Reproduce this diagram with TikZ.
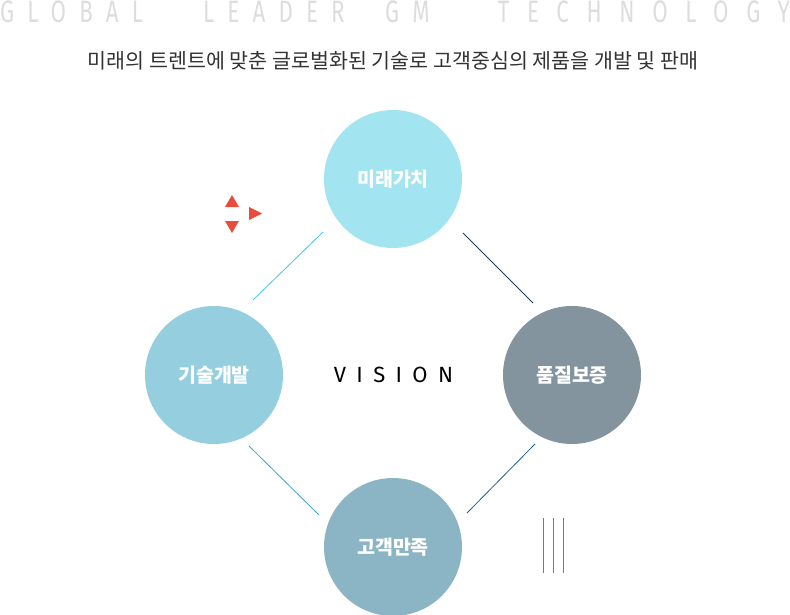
\documentclass[tikz,border=0pt]{standalone}
\usepackage{fontspec}
\newfontfamily\kr{Noto Sans CJK KR}
\newfontfamily\titlefont[FakeStretch=0.72,LetterSpace=42.5]{Fira Sans}
\newfontfamily\titlefontwide[FakeStretch=0.72,LetterSpace=57]{Fira Sans}
\newfontfamily\visionfont[LetterSpace=47]{Fira Sans}
\definecolor{titlegray}{HTML}{DDDDDD}
\definecolor{subtext}{HTML}{333333}
\definecolor{ctop}{HTML}{A2E4EF}
\definecolor{cleft}{HTML}{94CEDF}
\definecolor{cright}{HTML}{83949E}
\definecolor{cbottom}{HTML}{8BB5C5}
\definecolor{lcyan}{HTML}{3CC8E6}
\definecolor{lnavy}{HTML}{1F3F5F}
\definecolor{lblue}{HTML}{3BA4D0}
\definecolor{ldblue}{HTML}{1F5F8F}
\definecolor{accent}{HTML}{E84C3D}
\tikzset{
  circ/.style={circle,minimum size=138pt,inner sep=0pt,text=white,
    font=\kr\bfseries\fontsize{19.5}{19.5}\selectfont},
  titleword/.style={anchor=base west,inner sep=0pt,text=titlegray,
    font=\titlefont\fontsize{31}{31}\selectfont},
  titlewide/.style={anchor=base east,inner sep=0pt,text=titlegray,
    font=\titlefontwide\fontsize{31}{31}\selectfont},
  link/.style={line width=0.8pt},
  mark3/.style={fill=accent,draw=none},
  rule3/.style={draw=accent,line width=0.8pt}
}
\begin{document}
\begin{tikzpicture}[x=1pt,y=-1pt]
\useasboundingbox (0,0) rectangle (790,615);
% title
\node[titleword] (t1) at (0,22.3) {GLOBAL};
\node[titleword] (t2) at (203,22.3) {LEADER};
\node[titleword] (t3) at (385,22.3) {GM};
\node[titlewide] (t4) at (790,22.3) {TECHNOLOGY};
% subtitle
\node[inner sep=0pt,text=subtext,font=\kr\fontsize{20.6}{20.6}\selectfont] (sub) at (393,61) {미래의 트렌트에 맞춘 글로벌화된 기술로 고객중심의 제품을 개발 및 판매};
% circles
\node[circ,fill=ctop] (top) at (393,179) {미래가치};
\node[circ,fill=cleft] (left) at (214,375) {기술개발};
\node[circ,fill=cright] (right) at (572,375) {품질보증};
\node[circ,fill=cbottom] (bottom) at (393,547) {고객만족};
% center text
\node[inner sep=0pt,font=\visionfont\fontsize{22}{22}\selectfont] (vision) at (393.5,375) {VISION};
% connectors
\coordinate (a1) at (253,300); \coordinate (a2) at (323,232);
\coordinate (b1) at (463,233); \coordinate (b2) at (533,303);
\coordinate (c1) at (249,446); \coordinate (c2) at (319,515);
\coordinate (d1) at (535,444); \coordinate (d2) at (467,513);
\draw[link,lcyan] (a1) -- (a2);
\draw[link,lnavy] (b1) -- (b2);
\draw[link,lblue] (c1) -- (c2);
\draw[link,ldblue] (d1) -- (d2);
% red triangles
\coordinate (up1) at (225,207); \coordinate (up2) at (239,207); \coordinate (up3) at (232,195);
\coordinate (dn1) at (225,221); \coordinate (dn2) at (239,221); \coordinate (dn3) at (232,233);
\coordinate (rt1) at (249,207); \coordinate (rt2) at (249,220); \coordinate (rt3) at (262,213.5);
\fill[mark3] (up1) -- (up2) -- (up3) -- cycle;
\fill[mark3] (dn1) -- (dn2) -- (dn3) -- cycle;
\fill[mark3] (rt1) -- (rt2) -- (rt3) -- cycle;
% red vertical rules
\coordinate (v1a) at (543,518); \coordinate (v1b) at (543,573);
\coordinate (v2a) at (553,518); \coordinate (v2b) at (553,573);
\coordinate (v3a) at (563,518); \coordinate (v3b) at (563,573);
\draw[rule3] (v1a) -- (v1b);
\draw[rule3] (v2a) -- (v2b);
\draw[rule3] (v3a) -- (v3b);
\end{tikzpicture}
\end{document}
